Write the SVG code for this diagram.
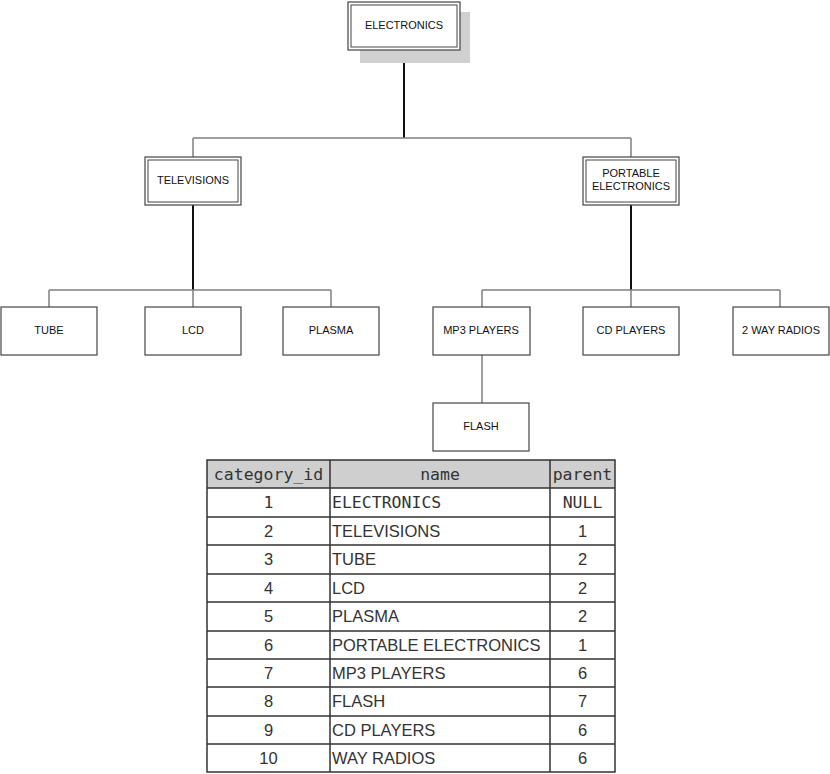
<svg xmlns="http://www.w3.org/2000/svg" width="830" height="774" viewBox="0 0 830 774">
<style>
.box{fill:#fff;stroke:#444;stroke-width:1.2}
.dbl{fill:none;stroke:#444;stroke-width:1}
.lbl{font-family:"Liberation Sans",Arial,sans-serif;font-size:11px;fill:#111;text-anchor:middle}
.gl{stroke:#808080;stroke-width:1.5;fill:none}
.bl{stroke:#111;stroke-width:2;fill:none}
.tl{stroke:#333;stroke-width:1.5;fill:none}
.mono{font-family:"DejaVu Sans Mono",monospace;font-size:16.5px;fill:#333}
.sans{font-family:"Liberation Sans",Arial,sans-serif;font-size:16.5px;fill:#333}
.c{text-anchor:middle}
</style>
<rect width="830" height="774" fill="#fff"/>
<g id="connectors">
<path class="bl" d="M404,50V138"/>
<path class="gl" d="M193,138H631M193,138V157M631,138V157"/>
<path class="bl" d="M193,205V290M631,205V290"/>
<path class="gl" d="M49,290H331M49,290V307M193,290V307M331,290V307"/>
<path class="gl" d="M482,290H780M482,290V307M631,290V307M780,290V307"/>
<path class="gl" d="M482,355V403"/>
</g>
<g id="n-electronics">
<rect x="360" y="12" width="110" height="51" fill="#d0d0d0"/>
<rect class="box" x="348" y="2" width="112" height="48"/>
<rect class="dbl" x="351" y="5" width="106" height="42"/>
<text class="lbl" x="404" y="28.5">ELECTRONICS</text>
</g>
<g id="n-televisions">
<rect class="box" x="145" y="157" width="96" height="48"/>
<rect class="dbl" x="148" y="160" width="90" height="42"/>
<text class="lbl" x="193" y="183.5">TELEVISIONS</text>
</g>
<g id="n-portable">
<rect class="box" x="583" y="157" width="96" height="48"/>
<rect class="dbl" x="586" y="160" width="90" height="42"/>
<text class="lbl" x="631" y="176.5">PORTABLE</text>
<text class="lbl" x="631" y="189.5">ELECTRONICS</text>
</g>
<g id="n-tube"><rect class="box" x="1" y="307" width="96" height="48"/><text class="lbl" x="49" y="333.5">TUBE</text></g>
<g id="n-lcd"><rect class="box" x="145" y="307" width="96" height="48"/><text class="lbl" x="193" y="333.5">LCD</text></g>
<g id="n-plasma"><rect class="box" x="283" y="307" width="96" height="48"/><text class="lbl" x="331" y="333.5">PLASMA</text></g>
<g id="n-mp3"><rect class="box" x="433" y="307" width="97" height="48"/><text class="lbl" x="481" y="333.5">MP3 PLAYERS</text></g>
<g id="n-cd"><rect class="box" x="583" y="307" width="96" height="48"/><text class="lbl" x="631" y="333.5">CD PLAYERS</text></g>
<g id="n-2way"><rect class="box" x="733" y="307" width="96" height="48"/><text class="lbl" x="781" y="333.5">2 WAY RADIOS</text></g>
<g id="n-flash"><rect class="box" x="433" y="403" width="96" height="48"/><text class="lbl" x="481" y="429.5">FLASH</text></g>
<g id="table">
<rect x="207" y="460" width="408" height="28" fill="#cfcfcf"/>
<rect class="tl" x="207" y="460" width="408" height="312"/>
<path class="tl" d="M330,460V772M550,460V772"/>
<path class="tl" d="M207,488H615M207,517H615M207,545H615M207,574H615M207,602H615M207,631H615M207,659H615M207,687H615M207,716H615M207,744H615"/>
<text class="mono c" x="268.5" y="480">category_id</text>
<text class="mono c" x="440" y="480">name</text>
<text class="mono c" x="582.5" y="480">parent</text>
<text class="mono c" x="268.5" y="508">1</text>
<text class="mono" x="332" y="508">ELECTRONICS</text>
<text class="mono c" x="582.5" y="508">NULL</text>
<g class="sans">
<text class="c" x="268.5" y="537">2</text><text x="332" y="537">TELEVISIONS</text><text class="c" x="582.5" y="537">1</text>
<text class="c" x="268.5" y="565">3</text><text x="332" y="565">TUBE</text><text class="c" x="582.5" y="565">2</text>
<text class="c" x="268.5" y="594">4</text><text x="332" y="594">LCD</text><text class="c" x="582.5" y="594">2</text>
<text class="c" x="268.5" y="622">5</text><text x="332" y="622">PLASMA</text><text class="c" x="582.5" y="622">2</text>
<text class="c" x="268.5" y="651">6</text><text x="332" y="651">PORTABLE ELECTRONICS</text><text class="c" x="582.5" y="651">1</text>
<text class="c" x="268.5" y="679">7</text><text x="332" y="679">MP3 PLAYERS</text><text class="c" x="582.5" y="679">6</text>
<text class="c" x="268.5" y="707">8</text><text x="332" y="707">FLASH</text><text class="c" x="582.5" y="707">7</text>
<text class="c" x="268.5" y="736">9</text><text x="332" y="736">CD PLAYERS</text><text class="c" x="582.5" y="736">6</text>
<text class="c" x="268.5" y="764">10</text><text x="332" y="764">WAY RADIOS</text><text class="c" x="582.5" y="764">6</text>
</g>
</g>
</svg>
